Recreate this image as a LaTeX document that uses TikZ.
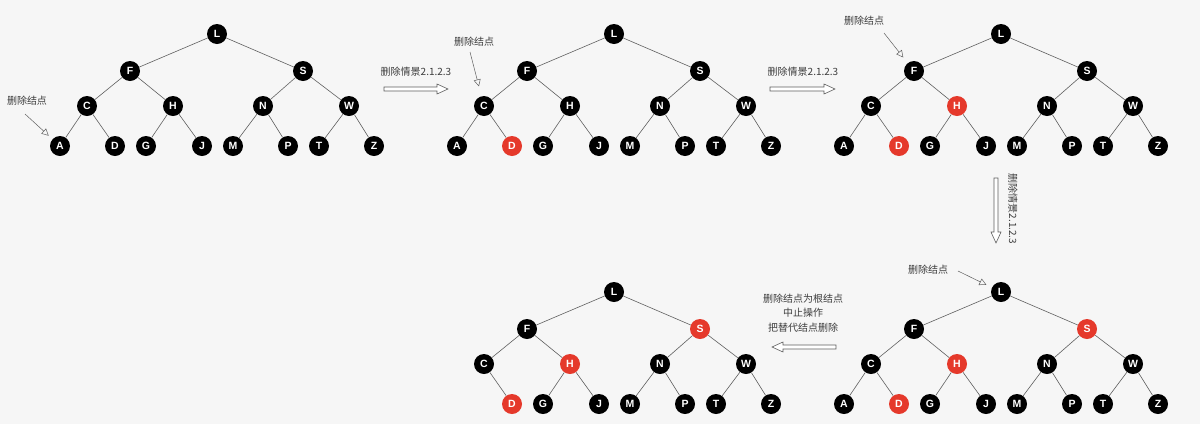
\documentclass[tikz,border=0pt]{standalone}
\usepackage{fontspec}
\setmainfont{Liberation Sans}
\newfontfamily\cjk{Noto Sans CJK SC}
\usepackage{tikz}
\usetikzlibrary{arrows.meta}
\definecolor{rbred}{RGB}{229,57,43}
\definecolor{edgegray}{RGB}{95,95,95}
\definecolor{labelgray}{RGB}{60,60,60}
\definecolor{paper}{RGB}{246,246,246}

\begin{document}
\begin{tikzpicture}[x=1pt,y=-1pt]
\tikzstyle{every node}+=[inner sep=0pt]
\tikzstyle{rbnode}=[circle, minimum size=20pt, text=white, font=\fontsize{10.5}{10.5}\selectfont\bfseries]
\tikzstyle{edge}=[draw=edgegray, line width=0.6pt]
\tikzstyle{note}=[font=\cjk\fontsize{10}{14.5}\selectfont, text=labelgray]
\tikzstyle{pointer}=[draw=edgegray, line width=0.5pt, -{Triangle[open,length=7pt,width=7pt]}]
\tikzstyle{hollow}=[draw=edgegray, line width=0.6pt, fill=white]
\fill [paper] (0,0) rectangle (1200,424);
% first tree
\begin{scope}
\foreach \n/\x/\y/\c in {L/217/34/black, F/130/71/black, S/303/71/black, C/87/106/black, H/173/106/black, N/263/106/black, W/349/106/black, A/60/146/black, D/115/146/black, G/146/146/black, J/202/146/black, M/233/146/black, P/288/146/black, T/319/146/black, Z/374/146/black}
  \node [rbnode, fill=\c] (a\n) at (\x,\y) {\n};
\foreach \u/\v in {L/F, L/S, F/C, F/H, S/N, S/W, C/A, C/D, H/G, H/J, N/M, N/P, W/T, W/Z}
  \draw [edge] (a\u) -- (a\v);
\end{scope}
% second tree
\begin{scope}[shift={(397,0)}]
\foreach \n/\x/\y/\c in {L/217/34/black, F/130/71/black, S/303/71/black, C/87/106/black, H/173/106/black, N/263/106/black, W/349/106/black, A/60/146/black, D/115/146/rbred, G/146/146/black, J/202/146/black, M/233/146/black, P/288/146/black, T/319/146/black, Z/374/146/black}
  \node [rbnode, fill=\c] (b\n) at (\x,\y) {\n};
\foreach \u/\v in {L/F, L/S, F/C, F/H, S/N, S/W, C/A, C/D, H/G, H/J, N/M, N/P, W/T, W/Z}
  \draw [edge] (b\u) -- (b\v);
\end{scope}
% third tree
\begin{scope}[shift={(784,0)}]
\foreach \n/\x/\y/\c in {L/217/34/black, F/130/71/black, S/303/71/black, C/87/106/black, H/173/106/rbred, N/263/106/black, W/349/106/black, A/60/146/black, D/115/146/rbred, G/146/146/black, J/202/146/black, M/233/146/black, P/288/146/black, T/319/146/black, Z/374/146/black}
  \node [rbnode, fill=\c] (c\n) at (\x,\y) {\n};
\foreach \u/\v in {L/F, L/S, F/C, F/H, S/N, S/W, C/A, C/D, H/G, H/J, N/M, N/P, W/T, W/Z}
  \draw [edge] (c\u) -- (c\v);
\end{scope}
% fourth tree
\begin{scope}[shift={(784,258)}]
\foreach \n/\x/\y/\c in {L/217/34/black, F/130/71/black, S/303/71/rbred, C/87/106/black, H/173/106/rbred, N/263/106/black, W/349/106/black, A/60/146/black, D/115/146/rbred, G/146/146/black, J/202/146/black, M/233/146/black, P/288/146/black, T/319/146/black, Z/374/146/black}
  \node [rbnode, fill=\c] (d\n) at (\x,\y) {\n};
\foreach \u/\v in {L/F, L/S, F/C, F/H, S/N, S/W, C/A, C/D, H/G, H/J, N/M, N/P, W/T, W/Z}
  \draw [edge] (d\u) -- (d\v);
\end{scope}
% fifth tree
\begin{scope}[shift={(397,258)}]
\foreach \n/\x/\y/\c in {L/217/34/black, F/130/71/black, S/303/71/rbred, C/87/106/black, H/173/106/rbred, N/263/106/black, W/349/106/black, D/115/146/rbred, G/146/146/black, J/202/146/black, M/233/146/black, P/288/146/black, T/319/146/black, Z/374/146/black}
  \node [rbnode, fill=\c] (e\n) at (\x,\y) {\n};
\foreach \u/\v in {L/F, L/S, F/C, F/H, S/N, S/W, C/D, H/G, H/J, N/M, N/P, W/T, W/Z}
  \draw [edge] (e\u) -- (e\v);
\end{scope}
% notes and pointers
\node [note] (del1) at (27,101) {删除结点};
\coordinate (del1s) at (25,114);
\draw [pointer, shorten >=5pt] (del1s) -- (aA);
\node [note] (del2) at (474,42) {删除结点};
\coordinate (del2s) at (470,52);
\draw [pointer, shorten >=10pt] (del2s) -- (bC);
\node [note] (del3) at (864,21) {删除结点};
\coordinate (del3s) at (884,33);
\draw [pointer, shorten >=7pt] (del3s) -- (cF);
\node [note] (del4) at (928,270) {删除结点};
\coordinate (del4s) at (958,271);
\draw [pointer, shorten >=6pt] (del4s) -- (dL);
% steps
\node [note] (step1) at (416,72) {删除情景2.1.2.3};
\draw [hollow] (384,87) -- (437,87) -- (437,84) -- (448,89) -- (437,94) -- (437,91) -- (384,91) -- cycle;
\node [note] (step2) at (803,72) {删除情景2.1.2.3};
\draw [hollow] (770,87) -- (824,87) -- (824,84) -- (835,89) -- (824,94) -- (824,91) -- (770,91) -- cycle;
\node [note, rotate=-90] (step3) at (1013,209) {删除情景2.1.2.3};
\draw [hollow] (994,178) -- (994,232) -- (991,232) -- (996,243) -- (1001,232) -- (998,232) -- (998,178) -- cycle;
\node [note, align=center] (step4) at (803,313) {删除结点为根结点\\中止操作\\把替代结点删除};
\draw [hollow] (836,345) -- (783,345) -- (783,342) -- (772,347) -- (783,352) -- (783,349) -- (836,349) -- cycle;
\end{tikzpicture}
\end{document}
